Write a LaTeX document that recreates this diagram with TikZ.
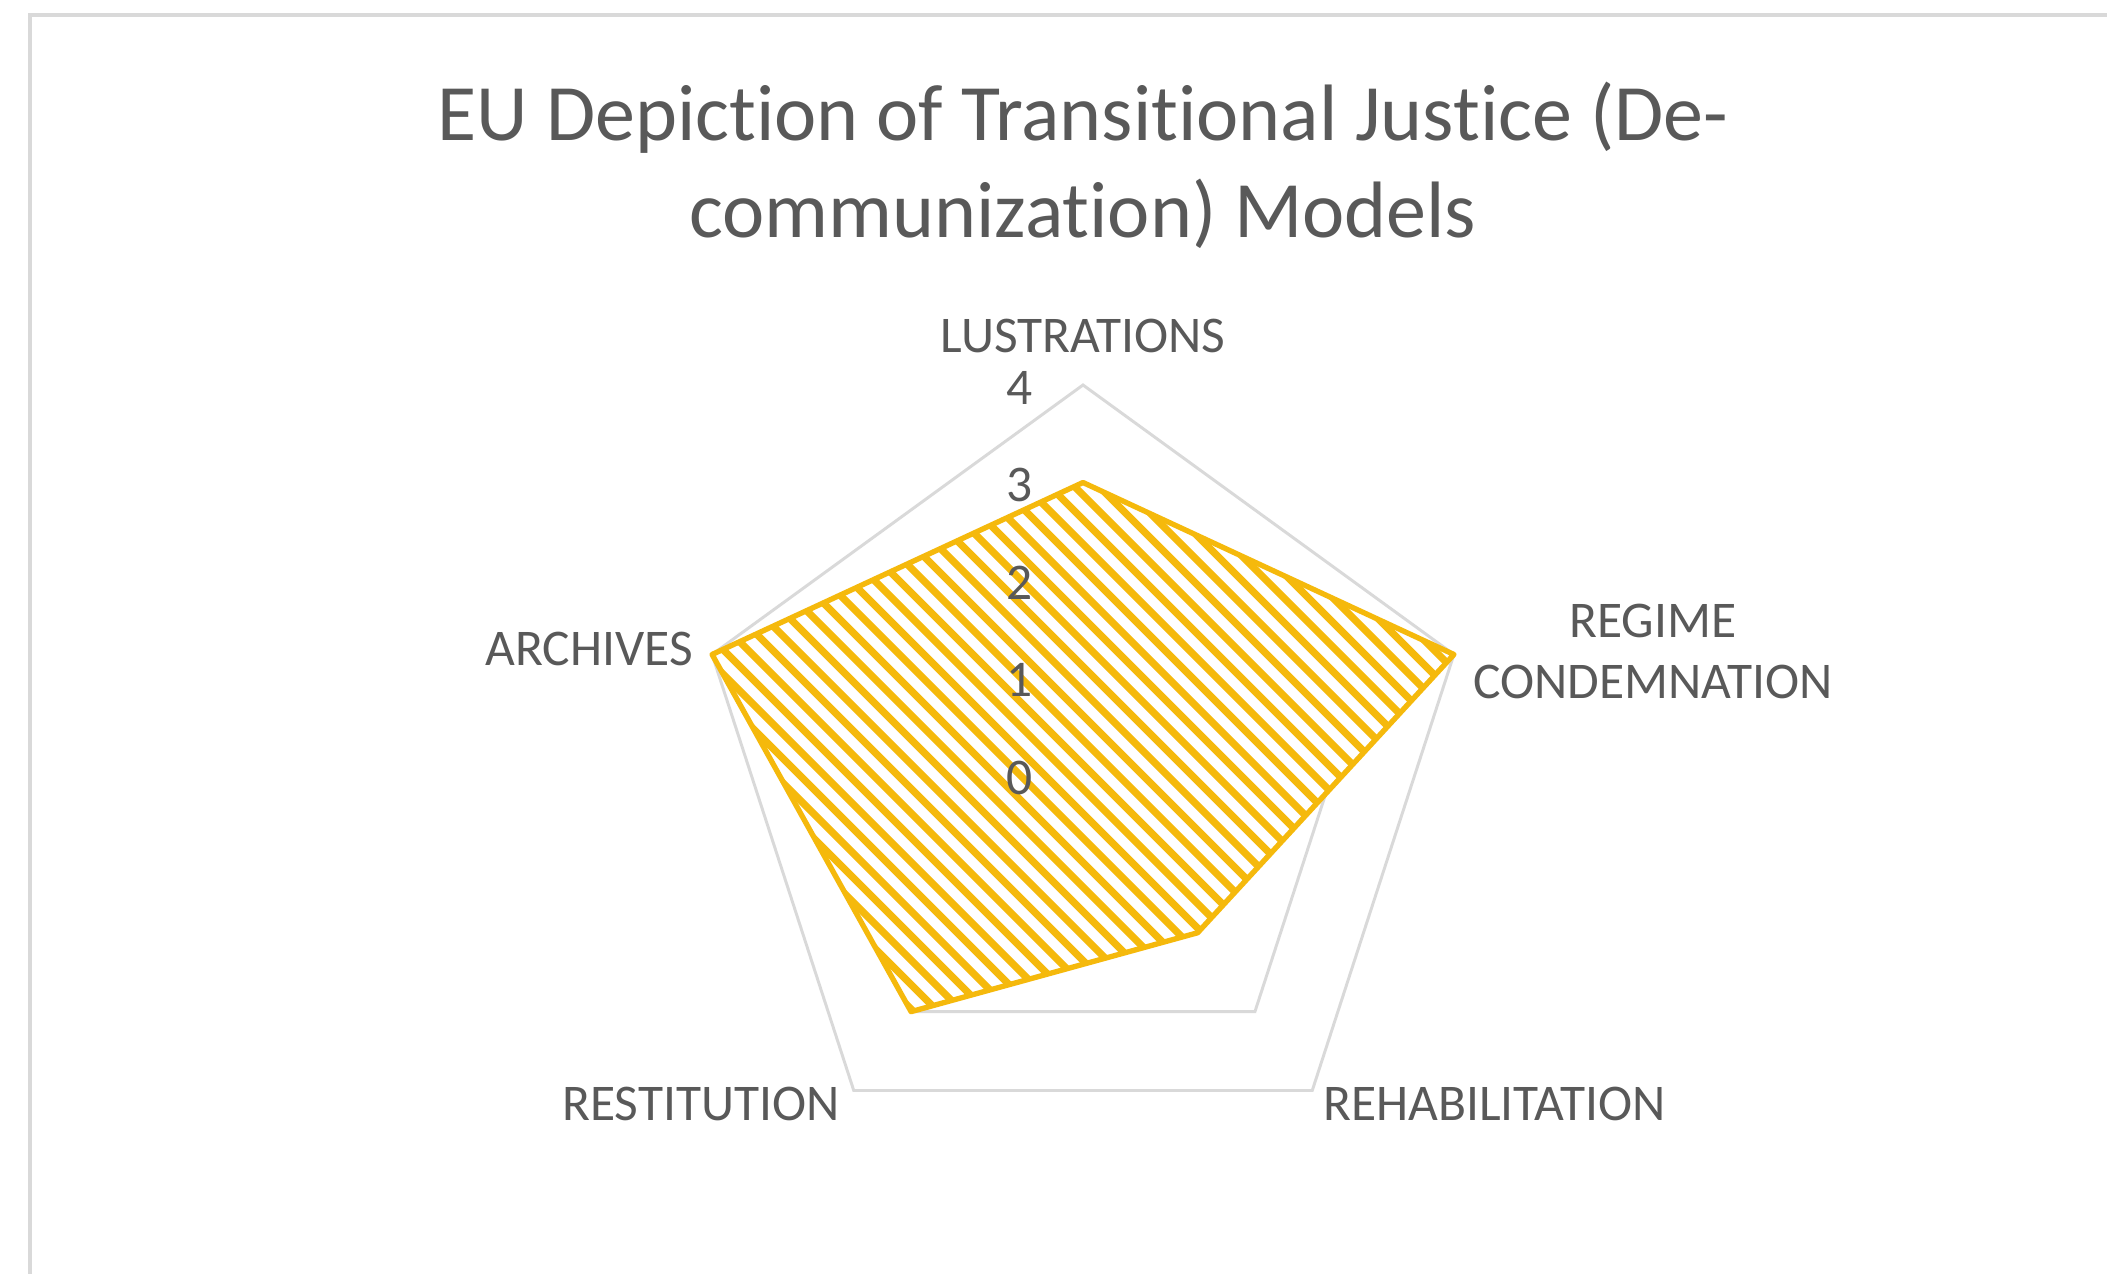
\documentclass[tikz,border=0pt]{standalone}
\usepackage{fontspec}
\setmainfont[Ligatures=NoCommon]{Carlito}
\definecolor{txtgrey}{HTML}{595959}
\definecolor{gridgrey}{HTML}{D9D9D9}
\definecolor{gold}{HTML}{F5B90C}
\begin{document}
\begin{tikzpicture}[x=0.75pt,y=-0.75pt,
  framebox/.style={draw=gridgrey,line width=3pt},
  gridline/.style={draw=gridgrey,line width=2.2pt,line join=miter},
  hatchline/.style={draw=gold,line width=5.4pt},
  outline/.style={draw=gold,line width=4pt,line join=round},
  titletext/.style={inner sep=0pt,text=txtgrey,font=\fontsize{60}{72}\selectfont,anchor=base},
  cattext/.style={inner sep=0pt,text=txtgrey,font=\fontsize{38.6}{46}\selectfont},
  numtext/.style={inner sep=0pt,text=txtgrey,font=\fontsize{38.6}{46}\selectfont,anchor=base east}]
\useasboundingbox (0,0) rectangle (2107,1274);
\clip (0,0) rectangle (2107,1274);
\fill[white] (0,0) rectangle (2107,1274);
\draw[framebox] (30,15) rectangle (2160,1330);
% grid coordinates
\foreach \k in {0,...,4}{
  \foreach \lv in {1,...,4}{
    \coordinate (g\lv-\k) at ({1083+\lv*97.5*cos(90-72*\k)},{775-\lv*97.5*sin(90-72*\k)});
  }
}
\foreach \lv in {1,...,4}{
  \draw[gridline] (g\lv-0) -- (g\lv-1) -- (g\lv-2) -- (g\lv-3) -- (g\lv-4) -- cycle;
}
% data
\coordinate (d0) at ({1083+3*97.5*cos(90)},{775-3*97.5*sin(90)});
\coordinate (d1) at ({1083+4*97.5*cos(18)},{775-4*97.5*sin(18)});
\coordinate (d2) at ({1083+2*97.5*cos(-54)},{775-2*97.5*sin(-54)});
\coordinate (d3) at ({1083+3*97.5*cos(-126)},{775-3*97.5*sin(-126)});
\coordinate (d4) at ({1083+4*97.5*cos(162)},{775-4*97.5*sin(162)});
\fill[white] (d0) -- (d1) -- (d2) -- (d3) -- (d4) -- cycle;
\begin{scope}
  \clip (d0) -- (d1) -- (d2) -- (d3) -- (d4) -- cycle;
  \foreach \k in {-8,...,36}{
    \draw[hatchline] ({\k*24.5+200},200) -- ({\k*24.5+1300},1300);
  }
\end{scope}
\draw[outline] (d0) -- (d1) -- (d2) -- (d3) -- (d4) -- cycle;
% axis numbers
\foreach \lv in {0,...,4}{
  \node[numtext] (n\lv) at (1033,{775-\lv*97.5+19}) {\lv};
}
% title
\node[titletext] (title1) at (1083,140) {EU Depiction of Transitional Justice (De-};
\node[titletext] (title2) at (1083,237) {communization) Models};
% category labels
\node[cattext,anchor=base] (lus) at (1083,352) {LUSTRATIONS};
\node[cattext,anchor=base] (reg1) at (1653,637) {REGIME};
\node[cattext,anchor=base] (reg2) at (1653,698) {CONDEMNATION};
\node[cattext,anchor=base west] (reh) at (1323,1120) {REHABILITATION};
\node[cattext,anchor=base east] (res) at (840,1120) {RESTITUTION};
\node[cattext,anchor=base east] (arc) at (693,665) {ARCHIVES};
\end{tikzpicture}
\end{document}
